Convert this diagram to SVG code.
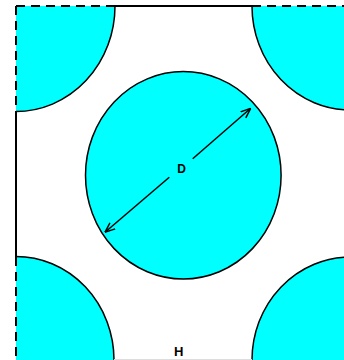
<svg xmlns="http://www.w3.org/2000/svg" width="344" height="360" viewBox="0 0 344 360">
  <style>
    .circ { fill: #00FFFF; stroke: #000; stroke-width: 1.5; }
    .solid { stroke: #000; stroke-width: 2; fill: none; }
    .dash { stroke: #000; stroke-width: 2; stroke-dasharray: 9 6; fill: none; }
    .dim { stroke: #000; stroke-width: 1.5; fill: none; }
    .lbl { font-family: "Liberation Sans", Arial, sans-serif; font-weight: bold; fill: #000; text-anchor: middle; }
  </style>
  <defs>
    <clipPath id="cell"><rect x="16" y="6" width="340" height="360"/></clipPath>
    <marker id="open" viewBox="0 0 10 10" refX="10" refY="5" markerUnits="userSpaceOnUse" markerWidth="10" markerHeight="10" orient="auto">
      <path d="M0,1 L10,5 L0,9" fill="none" stroke="#000" stroke-width="1.5"/>
    </marker>
  </defs>
  <rect width="344" height="360" fill="#fff"/>
  <g clip-path="url(#cell)">
    <g id="corner-tl"><ellipse class="circ" cx="16" cy="6" rx="99" ry="105.5"/></g>
    <g id="corner-tr"><ellipse class="circ" cx="350.5" cy="6" rx="98.5" ry="104"/></g>
    <g id="corner-bl"><ellipse class="circ" cx="16" cy="360" rx="98" ry="103.5"/></g>
    <g id="corner-br"><ellipse class="circ" cx="350.5" cy="360" rx="98.5" ry="103"/></g>
  </g>
  <g id="center"><ellipse class="circ" cx="183.3" cy="175.3" rx="97.8" ry="103.7"/></g>
  <g id="border">
    <line class="dash" x1="16" y1="6" x2="115" y2="6"/>
    <line class="solid" x1="115" y1="6" x2="252" y2="6"/>
    <line class="dash" x1="252" y1="6" x2="344" y2="6"/>
    <line class="dash" x1="16" y1="6" x2="16" y2="112"/>
    <line class="solid" x1="16" y1="112" x2="16" y2="257"/>
    <line class="dash" x1="16" y1="257" x2="16" y2="360"/>
    <line x1="114" y1="359.5" x2="252" y2="359.5" stroke="#ddd" stroke-width="1"/>
  </g>
  <g id="connectors">
    <line class="dim" x1="169.3" y1="177.3" x2="105" y2="232.3" marker-end="url(#open)"/>
    <line class="dim" x1="192.7" y1="158.7" x2="250.7" y2="108.3" marker-end="url(#open)"/>
  </g>
  <g id="labels">
    <text class="lbl" x="181.5" y="173" font-size="12">D</text>
    <text class="lbl" x="178.7" y="356" font-size="13">H</text>
  </g>
</svg>
